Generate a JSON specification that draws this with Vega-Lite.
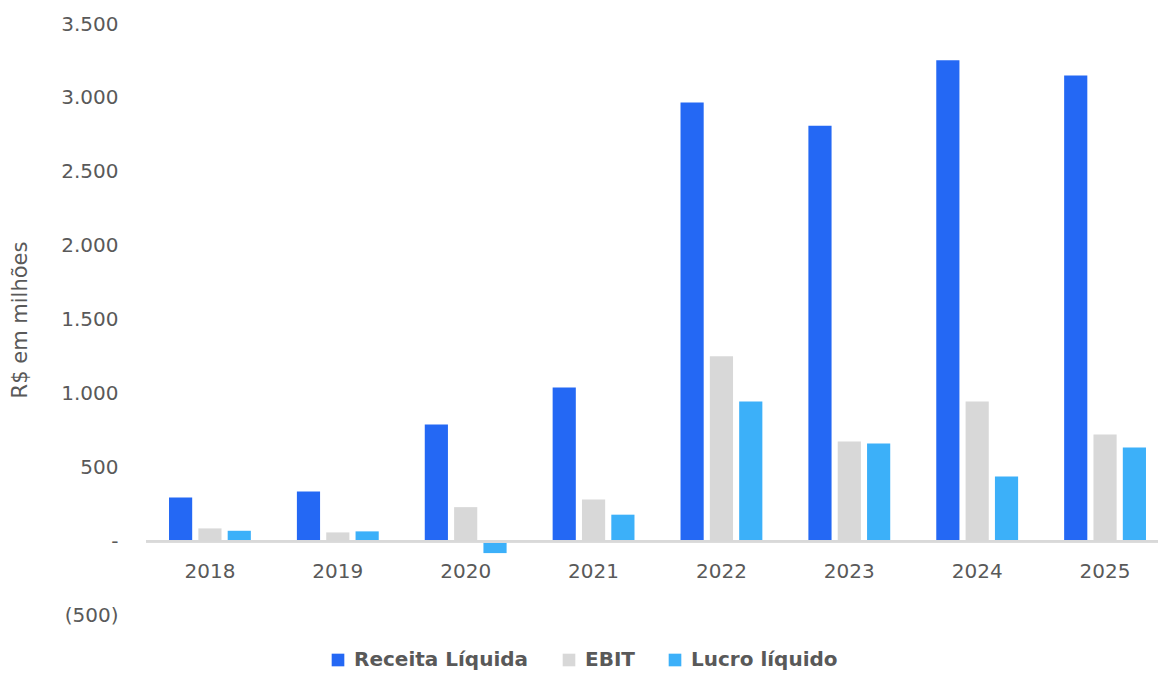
{
  "$schema": "https://vega.github.io/schema/vega-lite/v6.json",
  "autosize": {"type": "none"},
  "width": 1012,
  "height": 591,
  "padding": {"left": 146, "top": 24, "right": 0, "bottom": 58},
  "background": "white",
  "config": {
    "view": {"stroke": null},
    "font": "DejaVu Sans"
  },
  "data": {
    "values": [
      {"ano": "2018", "serie": "Receita Líquida", "valor": 296},
      {"ano": "2018", "serie": "EBIT", "valor": 86},
      {"ano": "2018", "serie": "Lucro líquido", "valor": 70},
      {"ano": "2019", "serie": "Receita Líquida", "valor": 336},
      {"ano": "2019", "serie": "EBIT", "valor": 59},
      {"ano": "2019", "serie": "Lucro líquido", "valor": 66},
      {"ano": "2020", "serie": "Receita Líquida", "valor": 790},
      {"ano": "2020", "serie": "EBIT", "valor": 230},
      {"ano": "2020", "serie": "Lucro líquido", "valor": -81},
      {"ano": "2021", "serie": "Receita Líquida", "valor": 1040},
      {"ano": "2021", "serie": "EBIT", "valor": 282},
      {"ano": "2021", "serie": "Lucro líquido", "valor": 179},
      {"ano": "2022", "serie": "Receita Líquida", "valor": 2968},
      {"ano": "2022", "serie": "EBIT", "valor": 1252},
      {"ano": "2022", "serie": "Lucro líquido", "valor": 945},
      {"ano": "2023", "serie": "Receita Líquida", "valor": 2811},
      {"ano": "2023", "serie": "EBIT", "valor": 674},
      {"ano": "2023", "serie": "Lucro líquido", "valor": 661},
      {"ano": "2024", "serie": "Receita Líquida", "valor": 3254},
      {"ano": "2024", "serie": "EBIT", "valor": 945},
      {"ano": "2024", "serie": "Lucro líquido", "valor": 438},
      {"ano": "2025", "serie": "Receita Líquida", "valor": 3151},
      {"ano": "2025", "serie": "EBIT", "valor": 722},
      {"ano": "2025", "serie": "Lucro líquido", "valor": 634}
    ]
  },
  "layer": [
    {
      "mark": {"type": "bar"},
      "encoding": {
        "x": {
          "field": "ano",
          "type": "nominal",
          "scale": {"range": [0, 1023], "paddingInner": 0.36, "paddingOuter": 0.18},
          "axis": {
            "title": null,
            "domain": false,
            "ticks": false,
            "labelAngle": 0,
            "labelFontSize": 20,
            "labelColor": "#595959",
            "labelPadding": 20,
            "offset": -74
          }
        },
        "xOffset": {
          "field": "serie",
          "type": "nominal",
          "sort": ["Receita Líquida", "EBIT", "Lucro líquido"],
          "scale": {"paddingInner": 0.21, "paddingOuter": 0}
        },
        "y": {
          "field": "valor",
          "type": "quantitative",
          "scale": {"domain": [-500, 3500], "nice": false, "zero": false},
          "axis": {
            "title": "R$ em milhões",
            "titleFontSize": 21,
            "titleFontWeight": "normal",
            "titleColor": "#595959",
            "titlePadding": 30,
            "values": [-500, 0, 500, 1000, 1500, 2000, 2500, 3000, 3500],
            "labelExpr": "datum.value == 0 ? '-' : (datum.value < 0 ? '(' + replace(format(-datum.value, ','), ',', '.') + ')' : replace(format(datum.value, ','), ',', '.'))",
            "labelFontSize": 20,
            "labelColor": "#595959",
            "labelPadding": 28,
            "domain": false,
            "ticks": false,
            "grid": false
          }
        },
        "color": {
          "field": "serie",
          "type": "nominal",
          "sort": ["Receita Líquida", "EBIT", "Lucro líquido"],
          "scale": {
            "domain": ["Receita Líquida", "EBIT", "Lucro líquido"],
            "range": ["#2468F4", "#D8D8D8", "#3CB0F9"]
          },
          "legend": {
            "title": null,
            "orient": "none",
            "direction": "horizontal",
            "legendX": 182,
            "legendY": 626,
            "symbolType": "square",
            "symbolSize": 160,
            "symbolStrokeWidth": 0,
            "labelFontSize": 20,
            "labelFontWeight": "bold",
            "labelColor": "#595959",
            "labelOffset": 6,
            "labelLimit": 400,
            "columnPadding": 30
          }
        }
      }
    },
    {
      "mark": {"type": "rule", "color": "#D9D9D9", "strokeWidth": 2},
      "encoding": {"y": {"datum": 0, "type": "quantitative"}}
    }
  ]
}
